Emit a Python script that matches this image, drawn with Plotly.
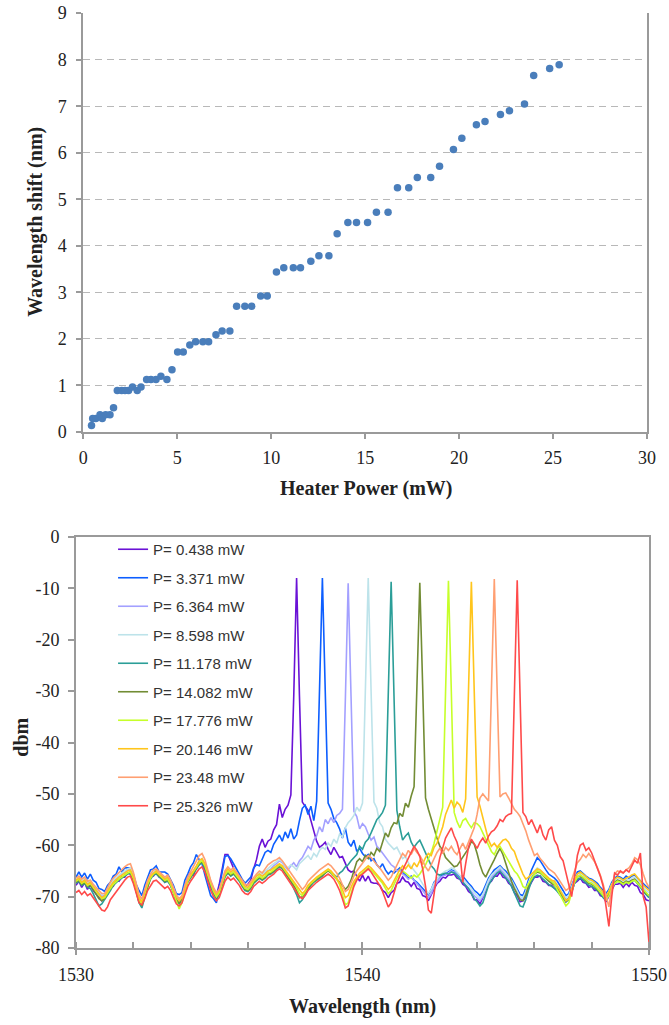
import numpy as np
import plotly.graph_objects as go

# ---------------- Heater tuning: wavelength shift vs. heater power ----------------
heater_power_mw = [
    0.438, 0.50, 0.67, 0.89, 1.01, 1.19, 1.42, 1.61, 1.81, 2.04,
    2.22, 2.41, 2.62, 2.87, 3.07, 3.371, 3.60, 3.87, 4.13, 4.45,
    4.72, 5.02, 5.32, 5.67, 5.98, 6.364, 6.67, 7.06, 7.39, 7.80,
    8.16, 8.598, 8.96, 9.44, 9.79, 10.28, 10.67, 11.178, 11.56, 12.11,
    12.54, 13.07, 13.51, 14.082, 14.54, 15.13, 15.60, 16.22, 16.72, 17.32,
    17.776, 18.49, 18.96, 19.70, 20.146, 20.92, 21.38, 22.20, 22.68, 23.48,
    23.97, 24.82, 25.326,
]
wavelength_shift_nm = [
    0.14, 0.29, 0.29, 0.37, 0.29, 0.37, 0.37, 0.52, 0.89, 0.89,
    0.89, 0.89, 0.97, 0.89, 0.97, 1.13, 1.13, 1.13, 1.20, 1.13,
    1.34, 1.72, 1.72, 1.87, 1.94, 1.94, 1.94, 2.09, 2.17, 2.17,
    2.70, 2.70, 2.70, 2.92, 2.92, 3.44, 3.53, 3.53, 3.53, 3.67,
    3.79, 3.79, 4.26, 4.50, 4.50, 4.50, 4.72, 4.72, 5.25, 5.25,
    5.47, 5.47, 5.71, 6.07, 6.31, 6.60, 6.67, 6.82, 6.90, 7.05,
    7.66, 7.81, 7.89,
]

# ---------------- Output spectra, 1530-1550 nm in 0.1 nm steps ----------------
wavelength_nm = np.round(np.linspace(1530.0, 1550.0, 201), 1)

dbm_p0438 = [
    -67.8, -67.0, -68.2, -67.3, -68.6, -67.7, -68.8, -69.5, -70.0, -70.8,
    -70.2, -69.6, -68.2, -68.0, -66.8, -67.0, -66.2, -66.2, -65.4, -65.6,
    -66.6, -68.8, -70.4, -71.2, -69.2, -67.8, -66.2, -66.0, -65.2, -66.2,
    -66.4, -67.2, -66.6, -67.8, -69.0, -70.8, -71.2, -70.6, -68.0, -66.2,
    -65.2, -66.0, -64.2, -63.8, -63.0, -64.8, -66.4, -68.2, -69.2, -69.8,
    -67.6, -64.8, -61.8, -61.8, -63.2, -64.4, -65.8, -66.6, -67.4, -68.2,
    -67.6, -66.8, -64.6, -62.8, -60.2, -58.8, -60.4, -59.2, -58.8, -57.0,
    -56.0, -52.0, -54.6, -53.0, -52.2, -50.2, -31.0, -8.0, -31.0, -51.6,
    -52.4, -53.2, -55.2, -57.0, -59.2, -60.4, -60.0, -59.4, -60.8, -61.8,
    -60.4, -61.4, -62.4, -62.2, -63.6, -64.8, -65.2, -65.0, -66.0, -67.0,
    -65.8, -67.0, -66.0, -67.2, -67.4, -67.4, -67.8, -68.8, -69.2, -70.2,
    -69.2, -68.8, -67.4, -67.2, -66.2, -67.0, -67.2, -68.0, -67.2, -68.4,
    -68.6, -69.8, -70.0, -70.8, -69.6, -68.6, -67.4, -67.0, -66.2, -66.4,
    -65.8, -65.8, -65.6, -66.4, -66.6, -67.6, -68.0, -69.0, -69.4, -70.6,
    -70.6, -71.4, -70.2, -69.0, -67.4, -67.0, -66.0, -66.0, -65.2, -66.2,
    -66.4, -67.4, -67.8, -69.2, -69.8, -71.0, -70.8, -70.2, -68.2, -67.2,
    -66.2, -66.2, -66.0, -67.0, -67.2, -67.8, -67.8, -68.4, -68.6, -69.6,
    -70.0, -71.0, -70.4, -69.2, -67.4, -67.0, -66.4, -67.2, -67.4, -68.2,
    -68.0, -68.8, -68.8, -69.8, -70.0, -71.0, -69.8, -68.8, -67.6, -67.6,
    -67.4, -68.2, -67.4, -68.0, -67.2, -67.8, -68.0, -69.2, -69.6, -70.6,
    -70.8,
]

dbm_p3371 = [
    -66.2, -65.2, -66.2, -65.4, -66.6, -65.6, -66.8, -67.2, -68.4, -68.6,
    -69.0, -67.8, -67.2, -66.0, -65.6, -64.2, -65.2, -64.4, -64.4, -64.4,
    -65.6, -67.6, -68.8, -69.8, -67.8, -66.4, -64.8, -64.6, -64.0, -65.2,
    -65.2, -65.2, -65.6, -66.6, -67.8, -69.4, -69.6, -69.2, -66.8, -65.6,
    -64.2, -63.4, -61.8, -62.8, -63.6, -65.8, -67.6, -69.8, -70.4, -71.2,
    -68.4, -65.0, -62.2, -62.0, -62.6, -63.6, -64.6, -65.8, -66.6, -67.4,
    -66.8, -66.2, -64.4, -63.8, -64.0, -62.6, -61.4, -61.0, -61.4, -59.8,
    -58.8, -58.0, -59.2, -57.4, -58.6, -56.8, -58.8, -58.0, -55.2, -52.8,
    -52.2, -54.0, -52.4, -55.2, -51.4, -31.0, -8.0, -30.0, -51.8, -53.0,
    -54.8, -55.6, -56.8, -58.6, -56.6, -59.4, -60.2, -59.0, -61.2, -60.6,
    -61.6, -62.2, -61.8, -63.0, -62.6, -63.8, -64.4, -63.6, -64.8, -65.6,
    -65.0, -65.4, -64.8, -64.4, -65.2, -65.8, -66.4, -66.0, -66.8, -67.2,
    -67.8, -68.6, -69.2, -69.6, -68.6, -67.2, -66.6, -66.0, -65.8, -65.6,
    -65.2, -64.8, -65.0, -65.6, -66.2, -66.0, -66.8, -67.4, -68.0, -68.8,
    -69.2, -69.8, -69.0, -67.6, -66.4, -65.6, -64.8, -64.4, -64.0, -64.6,
    -65.0, -65.8, -66.4, -67.4, -68.4, -69.6, -69.8, -68.4, -66.6, -64.8,
    -63.6, -62.4, -63.0, -64.0, -64.8, -65.6, -66.0, -66.4, -67.0, -67.8,
    -68.8, -69.8, -69.4, -67.8, -66.4, -65.2, -65.0, -65.6, -66.0, -66.4,
    -66.6, -67.0, -67.4, -68.2, -68.8, -69.4, -68.6, -67.2, -66.4, -66.0,
    -66.2, -66.6, -66.0, -66.4, -66.0, -65.8, -66.4, -67.0, -67.6, -68.0,
    -68.4,
]

dbm_p6364 = [
    -67.0, -66.6, -67.4, -66.8, -67.6, -67.0, -67.8, -68.6, -69.4, -70.0,
    -69.6, -68.6, -67.8, -67.0, -66.4, -66.0, -65.6, -65.2, -64.8, -64.6,
    -66.0, -68.2, -70.2, -70.8, -69.2, -67.4, -66.2, -65.6, -65.2, -65.8,
    -66.2, -66.8, -66.4, -67.4, -68.8, -70.2, -71.0, -70.4, -68.6, -67.0,
    -66.0, -65.2, -64.2, -63.0, -62.6, -63.8, -65.6, -67.4, -68.8, -69.8,
    -69.0, -67.2, -65.6, -64.8, -65.4, -65.0, -65.8, -66.6, -67.6, -68.2,
    -68.4, -67.6, -66.8, -66.0, -65.6, -66.0, -65.4, -65.0, -64.6, -64.0,
    -63.6, -63.0, -63.4, -64.2, -64.8, -64.0, -63.4, -64.2, -63.0, -62.4,
    -61.2, -60.2, -60.8, -59.0, -58.2, -56.4, -57.4, -55.0, -55.8, -54.6,
    -55.6, -54.2, -53.8, -53.0, -32.0, -9.0, -31.0, -53.4, -54.4, -56.8,
    -55.8, -56.4, -57.8, -59.0, -58.4, -60.2, -60.8, -61.6, -62.4, -63.2,
    -63.8, -64.2, -65.0, -64.8, -65.6, -66.0, -66.6, -66.2, -66.8, -67.4,
    -68.0, -68.8, -69.6, -70.2, -69.4, -68.0, -67.2, -66.4, -66.0, -65.8,
    -65.4, -65.0, -65.2, -65.8, -66.4, -67.0, -67.6, -68.2, -69.0, -69.8,
    -70.4, -70.8, -70.0, -68.4, -67.2, -66.2, -65.6, -65.0, -64.6, -65.2,
    -65.8, -66.4, -67.2, -68.2, -69.2, -70.4, -70.6, -69.4, -67.6, -66.2,
    -65.4, -65.0, -65.2, -65.8, -66.4, -66.8, -67.2, -67.4, -68.2, -69.0,
    -69.8, -70.6, -70.2, -68.6, -67.0, -66.0, -65.8, -66.2, -66.8, -67.2,
    -67.4, -67.8, -68.4, -69.0, -69.8, -70.4, -69.4, -68.0, -67.2, -66.8,
    -67.0, -67.4, -67.0, -67.2, -66.8, -66.6, -67.2, -68.0, -68.8, -69.4,
    -69.8,
]

dbm_p8598 = [
    -66.8, -66.2, -67.0, -66.4, -67.2, -66.8, -67.6, -68.2, -69.0, -69.6,
    -69.4, -68.4, -67.6, -66.8, -66.2, -65.8, -65.4, -65.0, -64.6, -64.4,
    -65.8, -67.8, -69.8, -70.6, -69.0, -67.0, -65.8, -65.2, -64.8, -65.4,
    -65.8, -66.4, -66.0, -67.0, -68.4, -69.8, -70.6, -70.0, -68.2, -66.6,
    -65.8, -65.0, -64.0, -63.2, -62.8, -63.8, -65.4, -67.2, -68.6, -69.6,
    -68.8, -67.0, -65.4, -64.6, -65.2, -64.8, -65.6, -66.4, -67.4, -68.0,
    -68.2, -67.4, -66.6, -65.8, -65.2, -65.6, -65.0, -64.6, -64.0, -63.6,
    -63.2, -62.8, -63.2, -64.0, -64.4, -63.8, -64.2, -64.8, -63.6, -63.0,
    -62.6, -62.0, -62.8, -61.6, -62.2, -61.0, -60.4, -60.8, -59.6, -60.2,
    -58.8, -59.6, -57.8, -58.4, -56.6, -55.6, -55.0, -54.2, -52.6, -53.4,
    -51.8, -30.0, -8.0, -30.0, -51.6, -52.8, -55.6, -56.4, -58.8, -59.6,
    -60.2, -60.8, -60.4, -61.4, -62.6, -62.2, -63.4, -64.2, -64.8, -65.6,
    -66.6, -67.6, -68.6, -69.4, -68.6, -67.4, -66.6, -65.8, -65.4, -65.0,
    -64.8, -64.4, -64.6, -65.2, -65.8, -66.4, -67.0, -67.6, -68.4, -69.2,
    -69.8, -70.4, -69.6, -68.0, -66.8, -65.8, -65.2, -64.6, -64.2, -64.8,
    -65.4, -66.0, -66.8, -67.8, -68.8, -70.0, -70.2, -69.0, -67.2, -65.8,
    -65.0, -64.4, -64.8, -65.4, -66.0, -66.4, -66.8, -67.0, -67.8, -68.6,
    -69.4, -70.2, -69.8, -68.2, -66.6, -65.6, -65.4, -65.8, -66.4, -66.8,
    -67.0, -67.4, -68.0, -68.6, -69.4, -70.0, -69.0, -67.6, -66.8, -66.4,
    -66.6, -67.0, -66.6, -66.8, -66.4, -66.2, -66.8, -67.6, -68.2, -68.8,
    -69.2,
]

dbm_p11178 = [
    -67.4, -67.0, -67.8, -67.4, -68.2, -68.4, -69.4, -70.6, -71.8, -71.4,
    -70.6, -69.6, -68.8, -67.8, -67.2, -66.8, -66.4, -66.0, -65.6, -65.4,
    -66.8, -69.0, -71.2, -72.2, -70.2, -68.0, -66.6, -65.8, -65.6, -66.2,
    -66.6, -67.2, -67.0, -67.8, -69.2, -70.8, -71.4, -70.8, -68.8, -67.2,
    -66.4, -65.6, -64.8, -63.8, -63.4, -64.4, -66.2, -68.0, -69.4, -70.4,
    -69.6, -67.8, -66.2, -65.4, -66.0, -65.6, -66.2, -67.0, -68.0, -68.8,
    -69.0, -68.4, -67.4, -66.8, -66.4, -66.8, -66.4, -65.8, -65.6, -65.2,
    -64.6, -64.2, -64.6, -65.4, -66.2, -67.0, -68.4, -69.6, -71.2, -70.6,
    -69.6, -68.6, -67.8, -67.2, -66.8, -66.4, -66.0, -65.4, -64.8, -65.2,
    -65.8, -66.2, -65.4, -65.0, -64.2, -63.8, -63.0, -62.4, -61.8, -60.2,
    -60.8, -59.4, -58.8, -57.6, -56.4, -55.0, -54.4, -53.6, -52.2, -31.0,
    -8.7, -31.0, -53.2, -56.4, -59.0, -58.2, -57.6, -59.4, -60.4, -59.6,
    -59.0, -60.2, -61.4, -62.8, -64.0, -64.6, -65.6, -65.8, -65.6, -65.4,
    -65.6, -65.2, -65.4, -66.0, -66.6, -67.2, -67.8, -68.4, -69.4, -70.4,
    -71.0, -71.8, -71.2, -69.4, -67.8, -66.8, -66.0, -65.4, -65.0, -65.6,
    -66.2, -67.0, -68.0, -69.2, -70.6, -71.8, -72.0, -70.6, -68.6, -67.0,
    -66.2, -65.8, -66.0, -66.6, -67.2, -67.6, -68.0, -68.4, -69.0, -69.8,
    -70.4, -71.0, -70.6, -69.0, -67.4, -66.6, -66.4, -66.8, -67.4, -67.8,
    -68.0, -68.4, -68.8, -69.4, -70.2, -70.6, -69.6, -68.2, -67.4, -67.0,
    -67.2, -67.6, -67.2, -67.4, -67.0, -66.8, -67.4, -68.2, -69.0, -69.6,
    -70.2,
]

dbm_p14082 = [
    -67.2, -66.8, -67.6, -67.2, -68.0, -67.8, -68.6, -69.4, -70.4, -70.8,
    -70.4, -69.2, -68.4, -67.6, -67.0, -66.6, -66.2, -65.8, -65.4, -65.2,
    -66.6, -68.8, -71.0, -71.8, -70.0, -67.8, -66.4, -65.6, -65.4, -66.0,
    -66.4, -67.0, -66.8, -67.6, -69.0, -70.6, -71.2, -70.6, -68.6, -67.0,
    -66.2, -65.4, -64.6, -63.6, -63.2, -64.2, -66.0, -67.8, -69.2, -70.2,
    -69.4, -67.6, -66.0, -65.2, -65.8, -65.4, -66.0, -66.8, -67.8, -68.6,
    -68.8, -68.2, -67.2, -66.6, -66.2, -66.6, -66.2, -65.6, -65.4, -65.0,
    -64.4, -64.0, -64.4, -65.2, -66.0, -66.8, -67.8, -68.8, -70.2, -70.0,
    -69.2, -68.2, -67.6, -67.0, -66.6, -66.2, -65.8, -65.4, -65.0, -65.4,
    -66.0, -66.6, -67.0, -67.8, -68.6, -68.0, -66.8, -65.0, -63.2, -62.6,
    -63.2, -62.0, -62.6, -61.4, -62.0, -60.6, -61.2, -59.4, -57.6, -58.4,
    -56.6, -55.6, -55.8, -53.8, -54.4, -51.8, -52.6, -50.4, -48.6, -29.0,
    -8.9, -29.0, -50.8, -53.0, -55.0, -56.8, -58.6, -60.2, -61.0, -62.4,
    -63.0, -63.6, -64.2, -64.0, -63.2, -62.4, -61.4, -60.6, -59.2, -59.8,
    -61.6, -63.8, -65.4, -66.2, -65.0, -64.0, -62.8, -61.6, -60.6, -61.8,
    -63.6, -65.4, -67.0, -68.4, -69.6, -70.6, -70.8, -69.6, -67.8, -66.4,
    -65.6, -65.2, -65.4, -66.0, -66.6, -67.0, -67.4, -67.8, -68.4, -69.2,
    -70.0, -70.8, -70.4, -68.8, -67.2, -66.2, -66.0, -66.4, -67.0, -67.4,
    -67.6, -68.0, -68.6, -69.2, -70.0, -70.4, -69.4, -68.0, -67.2, -66.8,
    -67.0, -67.4, -67.0, -67.2, -66.8, -66.6, -67.2, -68.0, -68.8, -69.4,
    -69.8,
]

dbm_p17776 = [
    -67.0, -66.6, -67.4, -67.0, -67.8, -67.4, -68.2, -69.0, -69.8, -70.4,
    -70.2, -69.2, -68.4, -67.6, -67.0, -66.6, -66.2, -65.8, -65.4, -65.2,
    -66.4, -68.6, -70.6, -71.4, -69.6, -67.6, -66.4, -65.6, -65.2, -65.8,
    -66.2, -66.8, -66.6, -67.6, -69.2, -71.0, -72.4, -71.2, -68.8, -67.0,
    -66.0, -65.2, -64.4, -63.4, -63.0, -64.0, -65.8, -67.6, -69.0, -70.0,
    -69.2, -67.4, -65.8, -65.0, -65.6, -65.2, -65.8, -66.6, -67.6, -68.4,
    -68.6, -68.0, -67.0, -66.4, -66.0, -66.4, -66.0, -65.4, -65.2, -64.8,
    -64.2, -63.8, -64.2, -65.0, -65.8, -66.6, -67.4, -68.2, -69.4, -69.8,
    -69.0, -68.0, -67.4, -66.8, -66.4, -66.0, -65.6, -65.2, -64.8, -65.2,
    -65.8, -66.6, -67.6, -69.4, -71.6, -71.2, -69.2, -67.6, -66.6, -65.8,
    -65.4, -64.8, -64.4, -64.8, -65.4, -66.0, -66.6, -67.4, -68.4, -69.4,
    -68.8, -67.6, -66.4, -65.6, -65.0, -65.4, -66.0, -66.4, -65.8, -66.2,
    -65.6, -64.8, -63.8, -62.6, -61.4, -59.6, -57.2, -55.0, -52.6, -30.0,
    -8.5, -30.0, -53.6, -55.4, -56.6, -55.2, -54.8, -55.8, -56.6, -55.6,
    -55.8, -56.4, -57.6, -59.0, -60.2, -61.2, -61.8, -60.6, -60.2, -61.2,
    -62.0, -63.2, -64.0, -65.0, -65.6, -66.6, -68.0, -68.4, -67.4, -66.4,
    -65.6, -65.0, -65.2, -65.8, -66.2, -66.6, -67.0, -67.6, -68.6, -69.8,
    -70.8, -71.8, -71.2, -69.2, -67.2, -66.2, -65.8, -66.2, -66.8, -67.2,
    -67.4, -67.8, -68.4, -69.0, -69.8, -70.6, -69.8, -68.4, -67.4, -67.0,
    -67.2, -67.6, -67.2, -67.4, -67.0, -66.8, -67.4, -68.0, -68.8, -69.4,
    -69.8,
]

dbm_p20146 = [
    -66.8, -66.4, -67.2, -66.8, -67.6, -67.2, -68.0, -68.8, -69.6, -70.2,
    -69.8, -68.8, -68.0, -67.2, -66.6, -66.2, -65.8, -65.4, -65.0, -64.8,
    -66.0, -68.2, -70.2, -71.0, -69.2, -67.2, -66.0, -65.4, -65.0, -65.6,
    -66.0, -66.6, -66.2, -67.2, -68.6, -70.0, -70.8, -70.2, -68.4, -66.8,
    -65.8, -65.0, -64.0, -63.0, -62.6, -63.6, -65.4, -67.2, -68.6, -69.6,
    -68.8, -67.0, -65.4, -64.6, -65.2, -64.8, -65.4, -66.2, -67.2, -68.0,
    -68.2, -67.4, -66.6, -66.0, -65.6, -66.0, -65.6, -65.0, -64.8, -64.4,
    -64.0, -63.6, -64.0, -64.8, -65.6, -66.2, -67.0, -67.8, -68.8, -69.4,
    -68.8, -67.8, -67.2, -66.6, -66.2, -65.8, -65.4, -65.0, -64.6, -65.0,
    -65.6, -66.4, -67.4, -68.6, -70.2, -69.8, -68.2, -67.0, -66.2, -65.4,
    -65.0, -64.4, -64.0, -64.4, -65.0, -65.6, -66.2, -67.0, -67.8, -68.6,
    -68.0, -66.8, -65.8, -64.8, -64.0, -64.6, -63.8, -64.6, -63.4, -64.2,
    -63.0, -63.6, -62.4, -61.6, -62.0, -60.4, -59.6, -58.0, -56.4, -54.0,
    -52.4, -51.2, -52.8, -51.6, -52.2, -53.6, -51.0, -30.0, -8.7, -30.0,
    -50.6, -52.4, -54.6, -56.8, -59.0, -60.2, -59.6, -60.4, -59.6, -59.0,
    -58.8, -59.4, -60.6, -61.2, -62.8, -64.2, -65.6, -66.6, -66.2, -65.6,
    -65.0, -64.6, -64.8, -65.4, -66.0, -66.4, -66.8, -67.0, -67.8, -68.8,
    -69.6, -70.8, -70.4, -68.4, -66.8, -65.6, -65.2, -65.6, -66.2, -66.6,
    -66.8, -67.2, -67.8, -68.4, -69.2, -70.0, -69.0, -67.6, -66.6, -66.2,
    -66.4, -66.8, -66.4, -66.2, -65.8, -65.6, -66.2, -67.0, -67.8, -68.4,
    -68.8,
]

dbm_p23480 = [
    -66.4, -66.0, -66.6, -66.2, -67.0, -66.8, -67.6, -68.2, -68.8, -69.4,
    -69.4, -68.2, -67.2, -66.4, -65.8, -65.2, -64.6, -64.2, -63.8, -63.6,
    -65.2, -67.4, -69.6, -70.4, -68.6, -66.8, -65.6, -64.8, -64.6, -65.2,
    -65.6, -66.2, -65.8, -66.8, -68.2, -69.6, -70.4, -69.8, -67.8, -66.2,
    -65.2, -64.2, -63.0, -62.0, -61.6, -62.8, -64.8, -66.8, -68.2, -69.2,
    -68.6, -66.6, -65.0, -64.2, -64.8, -64.4, -65.2, -66.0, -67.0, -67.6,
    -67.8, -67.0, -66.2, -65.6, -65.0, -65.4, -64.6, -63.8, -63.4, -63.0,
    -62.8, -62.4, -63.0, -63.8, -64.6, -65.4, -66.2, -67.0, -68.0, -68.6,
    -68.0, -67.0, -66.4, -65.8, -65.2, -64.8, -64.4, -64.0, -63.6, -64.0,
    -64.6, -65.4, -66.4, -67.6, -69.0, -68.6, -67.2, -66.0, -65.0, -64.2,
    -63.4, -62.6, -62.0, -62.4, -63.2, -63.8, -64.4, -65.2, -66.0, -66.8,
    -66.2, -65.0, -63.8, -62.6, -61.6, -62.2, -61.0, -61.8, -60.6, -61.4,
    -62.0, -63.0, -64.2, -65.0, -63.8, -62.6, -61.4, -60.6, -61.6, -60.4,
    -61.0, -60.2, -61.2, -61.8, -60.6, -59.6, -60.8, -59.4, -58.0, -56.6,
    -54.0, -50.8, -50.0, -50.6, -51.4, -30.0, -8.2, -30.0, -50.6, -50.0,
    -49.8, -50.8, -51.8, -53.0, -53.6, -54.4, -55.8, -57.2, -59.0, -60.4,
    -62.0, -61.6, -62.6, -63.2, -64.0, -64.6, -65.0, -65.4, -66.2, -67.0,
    -67.8, -68.8, -68.4, -66.8, -64.8, -63.4, -62.8, -61.8, -62.4, -61.6,
    -62.4, -63.2, -64.4, -65.8, -67.6, -70.0, -72.0, -68.4, -65.6, -65.0,
    -65.2, -65.4, -64.8, -64.4, -63.6, -62.4, -62.8, -63.8, -65.6, -67.2,
    -68.2,
]

dbm_p25326 = [
    -69.2, -68.8, -69.6, -69.0, -69.8, -69.4, -70.2, -71.0, -71.8, -72.6,
    -72.8, -72.0, -70.6, -69.8, -69.0, -68.4, -67.6, -66.8, -66.2, -66.0,
    -67.4, -69.4, -71.2, -71.6, -70.4, -68.8, -67.8, -67.0, -66.8, -67.4,
    -67.8, -68.4, -68.0, -68.8, -70.2, -71.4, -71.8, -71.2, -69.6, -68.0,
    -67.0, -66.2, -65.4, -64.6, -64.2, -65.2, -67.0, -68.8, -70.0, -70.8,
    -70.2, -68.6, -67.0, -66.2, -66.8, -66.4, -67.0, -67.8, -68.8, -69.4,
    -69.6, -69.0, -68.0, -67.4, -67.0, -67.4, -67.0, -66.4, -66.0, -65.6,
    -65.0, -64.6, -65.0, -65.8, -66.6, -67.4, -68.2, -69.0, -70.0, -70.4,
    -69.8, -68.8, -68.2, -67.6, -67.2, -66.8, -66.4, -66.0, -65.6, -66.0,
    -66.6, -67.6, -68.8, -70.4, -72.2, -71.8, -69.8, -68.0, -66.8, -66.0,
    -65.6, -65.0, -64.6, -65.2, -66.0, -66.8, -67.8, -69.0, -70.6, -72.0,
    -71.2, -69.2, -67.4, -66.0, -64.8, -63.6, -62.4, -61.2, -60.2, -61.0,
    -62.2, -64.6, -68.0, -72.6, -73.2, -69.4, -65.2, -62.4, -60.2, -58.6,
    -57.6, -56.6, -58.2, -59.4, -61.6, -67.2, -63.6, -60.4, -58.8, -59.8,
    -60.6, -59.4, -58.6, -59.6, -58.2, -57.4, -57.0, -56.2, -55.0, -55.4,
    -54.4, -54.0, -53.8, -31.0, -8.4, -31.0, -53.6, -54.4, -56.0, -55.0,
    -56.4, -57.6, -56.0, -58.0, -59.0, -57.0, -56.4, -59.0, -60.0, -62.2,
    -63.0, -65.4, -68.0, -70.0, -66.0, -62.0, -60.0, -59.6, -61.0, -60.5,
    -61.5, -63.0, -64.7, -66.0, -68.0, -72.0, -75.8, -70.0, -65.4, -65.8,
    -65.0, -65.4, -64.8, -65.2, -64.0, -62.9, -63.5, -61.5, -70.0, -72.0,
    -79.0,
]

spectra = [dbm_p0438, dbm_p3371, dbm_p6364, dbm_p8598, dbm_p11178,
           dbm_p14082, dbm_p17776, dbm_p20146, dbm_p23480, dbm_p25326]
legend_labels = ["P= 0.438 mW", "P= 3.371 mW", "P= 6.364 mW", "P= 8.598 mW",
                 "P= 11.178 mW", "P= 14.082 mW", "P= 17.776 mW",
                 "P= 20.146 mW", "P= 23.48 mW", "P= 25.326 mW"]
line_colors = ["#6a12d6", "#0d5eff", "#a3a0ff", "#bde3ea", "#2b9e98",
               "#728c34", "#c6ff2a", "#ffc51c", "#ff9f72", "#ff4a4a"]

# dBm axis labels written with a plain hyphen
dbm_ticks = [0, -10, -20, -30, -40, -50, -60, -70, -80]
dbm_tick_text = ["0", "-10", "-20", "-30", "-40", "-50", "-60", "-70", "-80"]

for s in spectra:
    assert len(s) == len(wavelength_nm), len(s)

SERIF = "Liberation Serif"
AXIS_GREY = "#9a9a9a"
TEXT = "#222222"

fig = go.Figure()

fig.add_trace(go.Scatter(
    x=heater_power_mw, y=wavelength_shift_nm, mode="markers",
    marker=dict(size=7.5, color="#4a7ebb"),
    xaxis="x", yaxis="y", showlegend=False,
))

for label, color, values in zip(legend_labels, line_colors, spectra):
    fig.add_trace(go.Scatter(
        x=wavelength_nm, y=values, mode="lines", name=label,
        legendgroup=label,
        line=dict(color=color, width=1.6),
        xaxis="x2", yaxis="y2",
    ))

tick_font = dict(family=SERIF, size=18, color=TEXT)
common_axis = dict(
    automargin=False, showline=True, linecolor=AXIS_GREY, linewidth=2,
    ticks="outside", tickwidth=1.5, tickcolor=AXIS_GREY,
    zeroline=False, tickfont=tick_font,
)

fig.update_layout(
    template="simple_white",
    width=669, height=1025, autosize=False,
    margin=dict(l=0, r=0, t=0, b=0, autoexpand=False),
    font=dict(family=SERIF, color=TEXT),
    paper_bgcolor="white", plot_bgcolor="white",
    xaxis=dict(
        common_axis, domain=[0.1245, 0.9671], anchor="y",
        range=[0, 30], dtick=5, tick0=0, ticklen=5,
        ticklabelstandoff=3, showgrid=False,
    ),
    yaxis=dict(
        common_axis, domain=[0.5785, 0.9873], anchor="x",
        range=[0, 9.002], dtick=1, tick0=0, ticklen=5, mirror=True,
        ticklabelstandoff=6,
        showgrid=True, gridcolor="#b8b8b8", gridwidth=1.3, griddash="7px,5px",
    ),
    xaxis2=dict(
        common_axis, domain=[0.1136, 0.9701], anchor="y2",
        range=[1530, 1550], dtick=10, tick0=1530, ticklen=5, mirror=True,
        ticklabelstandoff=4, showgrid=False,
        minor=dict(dtick=2, ticks="inside", ticklen=6, tickwidth=1.5,
                   tickcolor=AXIS_GREY, showgrid=False),
    ),
    yaxis2=dict(
        common_axis, domain=[0.0751, 0.4761], anchor="x2",
        range=[-80, 0], tickmode="array", tickvals=dbm_ticks,
        ticktext=dbm_tick_text, ticklen=6, mirror=True,
        ticklabelstandoff=5, showgrid=False,
    ),
    legend=dict(
        x=0.169, y=0.480, xanchor="left", yanchor="top",
        bgcolor="rgba(0,0,0,0)", borderwidth=0,
        font=dict(family="Liberation Sans", size=15, color="#333333"),
        tracegroupgap=6, traceorder="grouped",
    ),
)

title_font = dict(family=SERIF, size=20, color=TEXT)
for text, x, y, angle in [
    ("<b>Wavelength shift (nm)</b>", 0.052, 0.7834, -90),
    ("<b>Heater Power (mW)</b>", 0.548, 0.5239, 0),
    ("<b>dbm</b>", 0.031, 0.2810, -90),
    ("<b>Wavelength (nm)</b>", 0.542, 0.0185, 0),
]:
    fig.add_annotation(text=text, x=x, y=y, xref="paper", yref="paper",
                       showarrow=False, textangle=angle, font=title_font,
                       xanchor="center", yanchor="middle")

fig.write_html("out.html")
